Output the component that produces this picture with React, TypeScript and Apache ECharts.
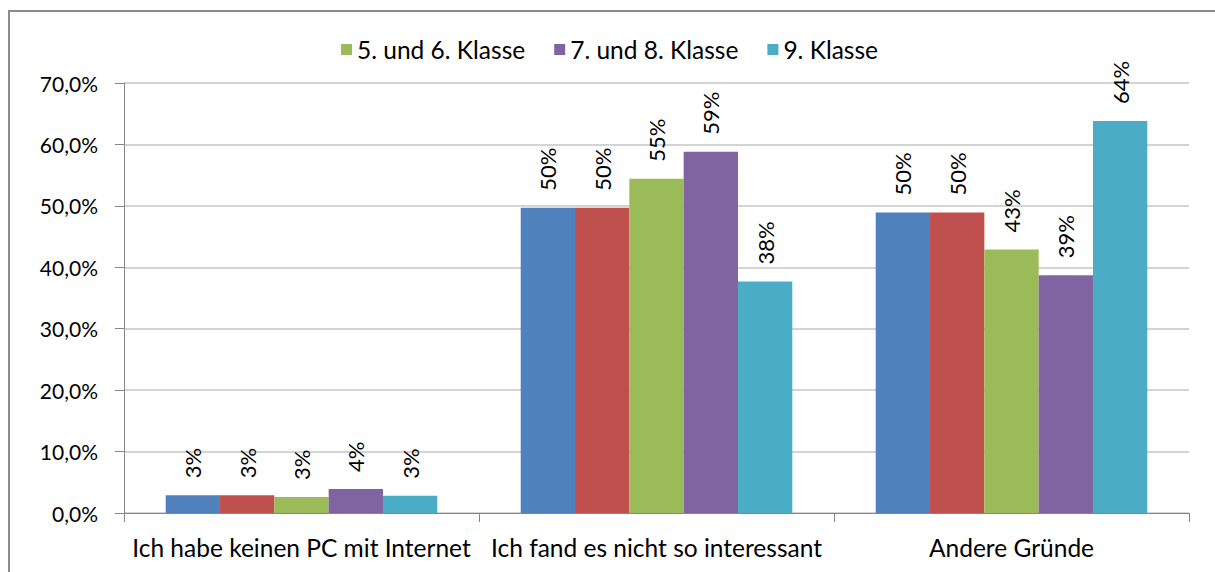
import React, { useEffect, useRef } from "react";
import * as echarts from "echarts";

const categories = [
  "Ich habe keinen PC mit Internet",
  "Ich fand es nicht so interessant",
  "Andere Gründe",
];
const seriesNames = ["Serie 1", "Serie 2", "5. und 6. Klasse", "7. und 8. Klasse", "9. Klasse"];
const legendNames = ["5. und 6. Klasse", "7. und 8. Klasse", "9. Klasse"];
const seriesColors = ["#4f81bd", "#c0504d", "#9bbb59", "#8064a2", "#4bacc6"];
const valuesBlue = [2.9, 49.7, 48.9];
const valuesRed = [2.9, 49.7, 48.9];
const valuesGreen = [2.6, 54.4, 42.9];
const valuesPurple = [3.9, 58.8, 38.7];
const valuesCyan = [2.8, 37.7, 63.8];
const labelsBlue = ["3%", "50%", "50%"];
const labelsRed = ["3%", "50%", "50%"];
const labelsGreen = ["3%", "55%", "43%"];
const labelsPurple = ["4%", "59%", "39%"];
const labelsCyan = ["3%", "38%", "64%"];
const yTicks = [0, 10, 20, 30, 40, 50, 60, 70];

const allValues = [valuesBlue, valuesRed, valuesGreen, valuesPurple, valuesCyan];
const allLabels = [labelsBlue, labelsRed, labelsGreen, labelsPurple, labelsCyan];

const FONT = "Lato, 'Noto Sans', sans-serif";

export default function App() {
  const ref = useRef<HTMLDivElement>(null);
  useEffect(() => {
    if (!ref.current) return;
    const chart = echarts.init(ref.current, undefined, { renderer: "svg" });
    chart.setOption({
      animation: false,
      backgroundColor: "#ffffff",
      textStyle: { fontFamily: FONT },
      graphic: [
        {
          type: "rect",
          shape: { x: 9, y: 11, width: 1400, height: 800 },
          style: { fill: "none", stroke: "#8c8c8c", lineWidth: 2 },
          silent: true,
        },
      ],
      legend: {
        data: legendNames,
        left: 336,
        top: 32,
        itemWidth: 11,
        itemHeight: 11,
        itemGap: 29,
        icon: "rect",
        textStyle: { fontFamily: FONT, fontSize: 24.5, color: "#000" },
      },
      grid: { left: 124, right: 26, top: 83, bottom: 59, containLabel: false },
      xAxis: {
        type: "category",
        data: categories,
        axisLine: { lineStyle: { color: "#868686", width: 1 } },
        axisTick: { show: true, length: 9, lineStyle: { color: "#868686" } },
        axisLabel: { fontFamily: FONT, fontSize: 24.5, color: "#000", margin: 22, interval: 0 },
      },
      yAxis: {
        type: "value",
        min: yTicks[0],
        max: yTicks[yTicks.length - 1],
        interval: 10,
        axisLine: { show: true, lineStyle: { color: "#868686", width: 1 } },
        axisTick: { show: true, length: 9, lineStyle: { color: "#868686" } },
        axisLabel: {
          fontFamily: FONT,
          fontSize: 21,
          color: "#000",
          margin: 26,
          formatter: (v: number) => v.toFixed(1).replace(".", ",") + "%",
        },
        splitLine: { lineStyle: { color: "#c6c6c6", width: 1.5 } },
      },
      series: allValues.map((vals, si) => ({
        type: "bar",
        name: seriesNames[si],
        data: vals,
        barGap: "0%",
        barCategoryGap: "23.5%",
        itemStyle: { color: seriesColors[si] },
        label: {
          show: true,
          position: "top",
          rotate: 90,
          align: "left",
          verticalAlign: "middle",
          distance: 17,
          fontFamily: FONT,
          fontSize: 22,
          color: "#000",
          formatter: (p: any) => allLabels[si][p.dataIndex],
        },
      })),
    });
    return () => chart.dispose();
  }, []);
  return (
    <div
      ref={ref}
      style={{ position: "fixed", left: 0, top: 0, width: 1215, height: 572 }}
    />
  );
}
